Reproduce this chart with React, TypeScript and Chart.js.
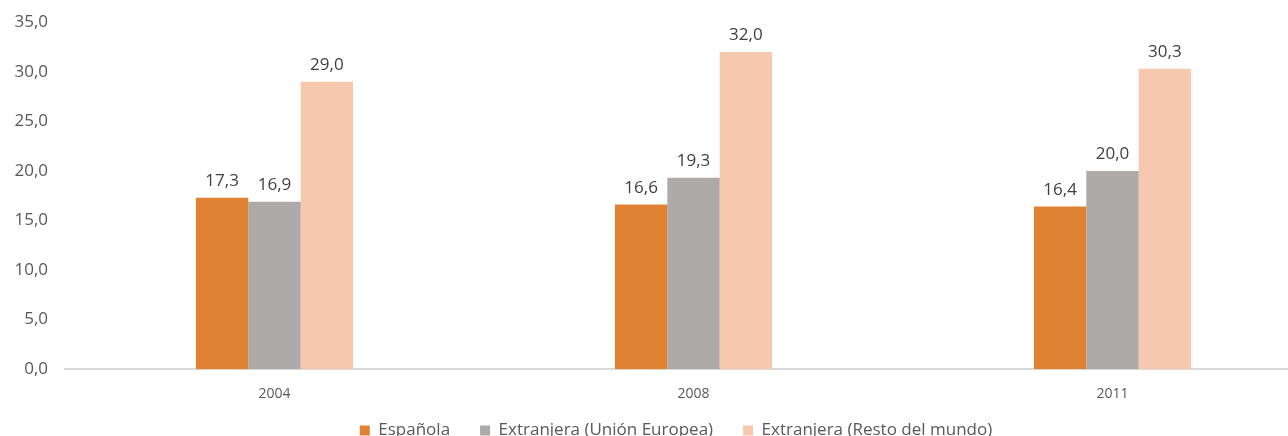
import React, { useEffect, useRef } from "react";
import { Chart, registerables } from "chart.js";

Chart.register(...registerables);

const categories = ["2004", "2008", "2011"];
const espanola = [17.3, 16.6, 16.4];
const extranjeraUE = [16.9, 19.3, 20.0];
const extranjeraResto = [29.0, 32.0, 30.3];
const seriesNames = ["Española", "Extranjera (Unión Europea)", "Extranjera (Resto del mundo)"];
const yTicks = [0, 5, 10, 15, 20, 25, 30, 35];

const fmt = (v: number) => v.toFixed(1).replace(".", ",");

const dataLabels = {
  id: "dataLabels",
  afterDatasetsDraw(chart: any) {
    const ctx = chart.ctx;
    ctx.save();
    ctx.font = "17px 'Open Sans'";
    ctx.fillStyle = "#404040";
    ctx.textAlign = "center";
    ctx.textBaseline = "alphabetic";
    chart.data.datasets.forEach((ds: any, i: number) => {
      const meta = chart.getDatasetMeta(i);
      meta.data.forEach((bar: any, j: number) => {
        ctx.fillText(fmt(ds.data[j]), bar.x, bar.y - 12);
      });
    });
    ctx.restore();
  },
};

const legendShift = {
  id: "legendShift",
  afterLayout(chart: any) {
    const lg = chart.legend;
    if (lg) {
      lg.top -= 26;
      lg.bottom -= 26;
      lg.left += 15;
      lg.right += 15;
    }
  },
};

export default function App() {
  const ref = useRef<HTMLCanvasElement>(null);
  useEffect(() => {
    const chart = new Chart(ref.current!, {
      type: "bar",
      data: {
        labels: categories,
        datasets: [
          { label: seriesNames[0], data: espanola, backgroundColor: "#DF8233" },
          { label: seriesNames[1], data: extranjeraUE, backgroundColor: "#ADAAA9" },
          { label: seriesNames[2], data: extranjeraResto, backgroundColor: "#F6C8AE" },
        ],
      },
      options: {
        animation: false,
        responsive: false,
        devicePixelRatio: 1,
        layout: { padding: { top: 7, right: 18, left: 0, bottom: 0 } },
        datasets: { bar: { barPercentage: 1, categoryPercentage: 0.375 } },
        plugins: {
          legend: {
            position: "bottom",
            labels: {
              boxWidth: 10,
              boxHeight: 10,
              padding: 30,
              color: "#595959",
              font: { family: "'Open Sans'", size: 17 },
            },
          },
          tooltip: { enabled: false },
        },
        scales: {
          x: {
            grid: { display: false, drawTicks: false },
            border: { color: "#D9D9D9", width: 2 },
            ticks: { color: "#595959", font: { family: "'Open Sans'", size: 14 }, padding: 16 },
          },
          y: {
            min: 0,
            max: 35,
            afterFit: (s: any) => { s.width = 65; },
            afterBuildTicks: (s: any) => { s.ticks = yTicks.map((v) => ({ value: v })); },
            grid: { display: false, drawTicks: false },
            border: { display: false },
            ticks: {
              color: "#595959",
              font: { family: "'Open Sans'", size: 17 },
              padding: 17,
              callback: (v: any) => fmt(Number(v)),
            },
          },
        },
      },
      plugins: [dataLabels, legendShift],
    });
    return () => chart.destroy();
  }, []);
  return (
    <div style={{ position: "fixed", left: 0, top: 0, width: 1288, height: 436, overflow: "hidden", background: "#fff" }}>
      <canvas ref={ref} width={1340} height={480} style={{ display: "block", marginTop: -5 }} />
    </div>
  );
}
